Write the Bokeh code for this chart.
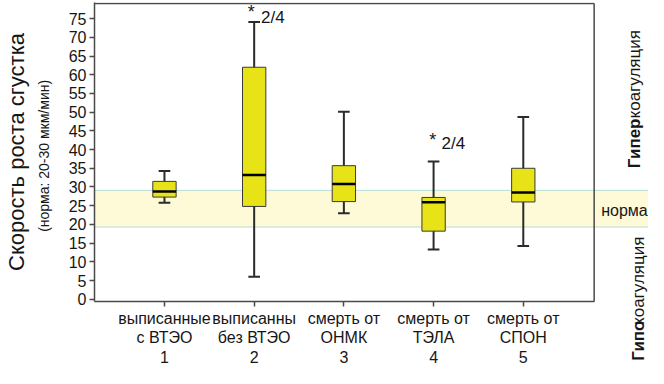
import math
from bokeh.plotting import figure
from bokeh.models import Range1d, FixedTicker, BoxAnnotation, Span, LinearAxis
from bokeh.embed import file_html
from bokeh.resources import INLINE
from bokeh.core.properties import value

# ---- data ----
groups = [1, 2, 3, 4, 5]
group_labels = [
    "выписанные\nс ВТЭО\n1",
    "выписанны\nбез ВТЭО\n2",
    "смерть от\nОНМК\n3",
    "смерть от\nТЭЛА\n4",
    "смерть от\nСПОН\n5",
]
whisker_low = [25.8, 6.0, 23.0, 13.3, 14.2]
q1 = [27.3, 24.8, 26.1, 18.2, 26.0]
median = [28.8, 33.2, 30.8, 25.9, 28.5]
q3 = [31.5, 62.0, 35.7, 27.2, 35.0]
whisker_high = [34.3, 74.1, 50.1, 36.8, 48.7]
norm_low, norm_high = 19.3, 29.1
y_ticks = list(range(0, 80, 5))
sig_groups = [2, 4]
sig_text = ["2/4", "2/4"]
y_title = "Скорость роста сгустка"
y_subtitle = "(норма:  20-30  мкм/мин)"

# ---- layout constants ----
W, H = 648, 368
TOP, BOTTOM, LEFT = 2, 60, 86
X0, XB = 0.22, 5.79
PXU_X = 91.0
X1 = X0 + (W - LEFT) / PXU_X
Y0, Y1 = -0.6, 79.3
Y_TOP = 79.0
FB = H - BOTTOM                      # frame bottom (canvas px)
PPU = (FB - TOP) / (Y1 - Y0)
M1_EST = 63                          # estimated height of the category axis panel
FONT = "Liberation Sans"
TXT = "#161616"
EDGE = "#4a4a4a"
ZF = 17

p = figure(width=W, height=H, x_range=Range1d(X0, X1), y_range=Range1d(Y0, Y1),
           output_backend="svg", toolbar_location=None,
           min_border_left=LEFT, min_border_right=0, min_border_top=TOP,
           min_border_bottom=BOTTOM)
p.xgrid.visible = False
p.ygrid.visible = False
p.outline_line_color = None
p.background_fill_color = "white"
p.border_fill_color = "white"

# norm band
p.add_layout(BoxAnnotation(bottom=norm_low, top=norm_high, fill_color="#FEFAD8",
                           fill_alpha=1.0, line_color=None, level="underlay"))
for loc in (norm_low, norm_high):
    p.add_layout(Span(location=loc, dimension="width", line_color="#B7DCD8",
                      line_width=1, level="underlay"))

# x axis with category labels
xa = p.xaxis[0]
xa.ticker = FixedTicker(ticks=groups)
xa.major_label_overrides = {g: t for g, t in zip(groups, group_labels)}
xa.bounds = (X0, XB)
xa.minor_tick_line_color = None
xa.major_tick_out = 5
xa.major_tick_in = 0
xa.major_label_standoff = 3
xa.major_label_text_font = FONT
xa.major_label_text_font_size = "16px"
xa.major_label_text_color = TXT
xa.major_label_text_line_height = 1.15
xa.axis_label_standoff = 0
xa.axis_line_color = EDGE
xa.axis_line_width = 1.5
xa.major_tick_line_color = EDGE
xa.major_tick_line_width = 1.5

# y axis (subtitle as its label)
ya = p.yaxis[0]
ya.ticker = FixedTicker(ticks=y_ticks)
ya.minor_tick_line_color = None
ya.major_tick_out = 5
ya.major_tick_in = 0
ya.major_label_standoff = 3
ya.major_label_text_font = FONT
ya.major_label_text_font_size = "16px"
ya.major_label_text_color = TXT
ya.axis_line_color = EDGE
ya.axis_line_width = 1.5
ya.major_tick_line_color = EDGE
ya.major_tick_line_width = 1.5
ya.axis_label = y_subtitle
ya.axis_label_standoff = 14
ya.axis_label_text_font = FONT
ya.axis_label_text_font_size = "14px"
ya.axis_label_text_font_style = "normal"
ya.axis_label_text_color = TXT

# outer left axis carrying the main title
title_axis = LinearAxis(ticker=FixedTicker(ticks=[]), axis_line_color=None,
                        major_tick_line_color=None, minor_tick_line_color=None,
                        axis_label=y_title, axis_label_standoff=4,
                        axis_label_text_font=FONT, axis_label_text_font_size="22px",
                        axis_label_text_font_style="normal", axis_label_text_color=TXT)
p.add_layout(title_axis, "left")

# lower right zone label ("Гипокоагуляция"), placed below the frame by two label-only axes
x_hypo = X0 + (639 - LEFT) / PXU_X
HYPO_BOTTOM = 365
L_BOLD = 2.45 * ZF   # approx. advance of "Гипо" (bold)
L_REG = 5.3 * ZF     # approx. advance of "коагуляция"
s_bold = HYPO_BOTTOM - L_BOLD - FB - M1_EST
s_reg = -(L_BOLD + L_REG)
for txt, style, st in (("Гипо", "bold", s_bold), ("коагуляция", "normal", s_reg)):
    ax = LinearAxis(ticker=FixedTicker(ticks=[x_hypo]), major_label_overrides={x_hypo: txt},
                    major_label_orientation=math.pi / 2, axis_line_color=None,
                    major_tick_line_color=None, minor_tick_line_color=None,
                    major_tick_out=0, major_tick_in=0, major_label_standoff=int(round(st)),
                    major_label_text_font=FONT, major_label_text_font_style=style,
                    major_label_text_font_size=f"{ZF}px", major_label_text_color=TXT)
    p.add_layout(ax, "below")

# top and right edges of the plot box
p.segment(x0=[X0, XB], y0=[Y_TOP, Y0], x1=[XB, XB], y1=[Y_TOP, Y_TOP],
          line_color=EDGE, line_width=1.5)

# box plots
WH = "#2b2b2b"
p.segment(x0=groups, y0=whisker_low, x1=groups, y1=whisker_high, line_color=WH, line_width=2)
cap = 0.065
p.segment(x0=[g - cap for g in groups], y0=whisker_high, x1=[g + cap for g in groups],
          y1=whisker_high, line_color=WH, line_width=2)
p.segment(x0=[g - cap for g in groups], y0=whisker_low, x1=[g + cap for g in groups],
          y1=whisker_low, line_color=WH, line_width=2)
p.vbar(x=groups, width=0.26, bottom=q1, top=q3, fill_color="#E7E317",
       line_color="#3a3a3a", line_width=1)
hw = 0.13
p.segment(x0=[g - hw for g in groups], y0=median, x1=[g + hw for g in groups],
          y1=median, line_color="black", line_width=2.5)

# significance marks
star_dx = [-0.033, -0.01]
star_y = [76.7, 42.6]
txt_dx = [0.077, 0.088]
txt_y = [75.4, 41.6]
p.text(x=[g + d for g, d in zip(sig_groups, star_dx)], y=star_y, text=["*", "*"],
       text_align="center", text_baseline="middle", text_font=value(FONT),
       text_font_size="18px", text_color=TXT)
p.text(x=[g + d for g, d in zip(sig_groups, txt_dx)], y=txt_y, text=sig_text,
       text_align="left", text_baseline="middle", text_font=value(FONT),
       text_font_size="17px", text_color=TXT)

# right-side zone labels inside the (extended) frame
x_hyper = X0 + (634 - LEFT) / PXU_X
x_norm = X0 + (600 - LEFT) / PXU_X
hyper_y0 = 35.0
p.text(x=[x_hyper], y=[hyper_y0], text=["Гипер"], angle=math.pi / 2, text_align="left",
       text_baseline="middle", text_font=value(FONT), text_font_style="bold",
       text_font_size=f"{ZF}px", text_color=TXT)
p.text(x=[x_hyper], y=[hyper_y0 + 3.0 * ZF / PPU], text=["коагуляция"], angle=math.pi / 2,
       text_align="left", text_baseline="middle", text_font=value(FONT),
       text_font_size=f"{ZF}px", text_color=TXT)
p.text(x=[x_norm], y=[23.6], text=["норма"], text_align="left", text_baseline="middle",
       text_font=value(FONT), text_font_size="16px", text_color=TXT)

open("out.html", "w").write(file_html(p, INLINE))
